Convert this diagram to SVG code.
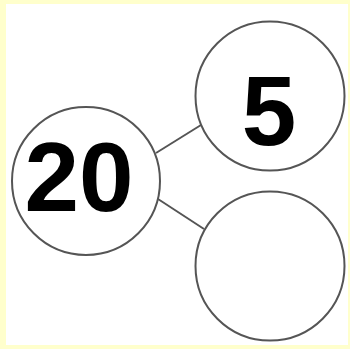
<svg xmlns="http://www.w3.org/2000/svg" width="350" height="349" viewBox="0 0 350 349">
  <style>
    .node { fill: #ffffff; stroke: #555555; stroke-width: 2; }
    .edge { stroke: #555555; stroke-width: 2; fill: none; }
    .num { font-family: "Liberation Sans", Arial, sans-serif; font-weight: bold; font-size: 98px; fill: #000000; text-anchor: middle; }
  </style>
  <rect x="0" y="0" width="350" height="349" fill="#FFFFCC"/>
  <rect x="6" y="4" width="342" height="341" fill="#ffffff"/>
  <g id="connectors">
    <line class="edge" x1="156" y1="153" x2="201" y2="125"/>
    <line class="edge" x1="158" y1="199" x2="204" y2="229"/>
  </g>
  <g id="node-20">
    <circle class="node" cx="86" cy="181" r="74"/>
    <text class="num" x="79" y="211">20</text>
  </g>
  <g id="node-5">
    <circle class="node" cx="270" cy="96" r="74.5"/>
    <text class="num" x="269" y="145">5</text>
  </g>
  <g id="node-empty">
    <circle class="node" cx="270" cy="266" r="74.5"/>
  </g>
</svg>
